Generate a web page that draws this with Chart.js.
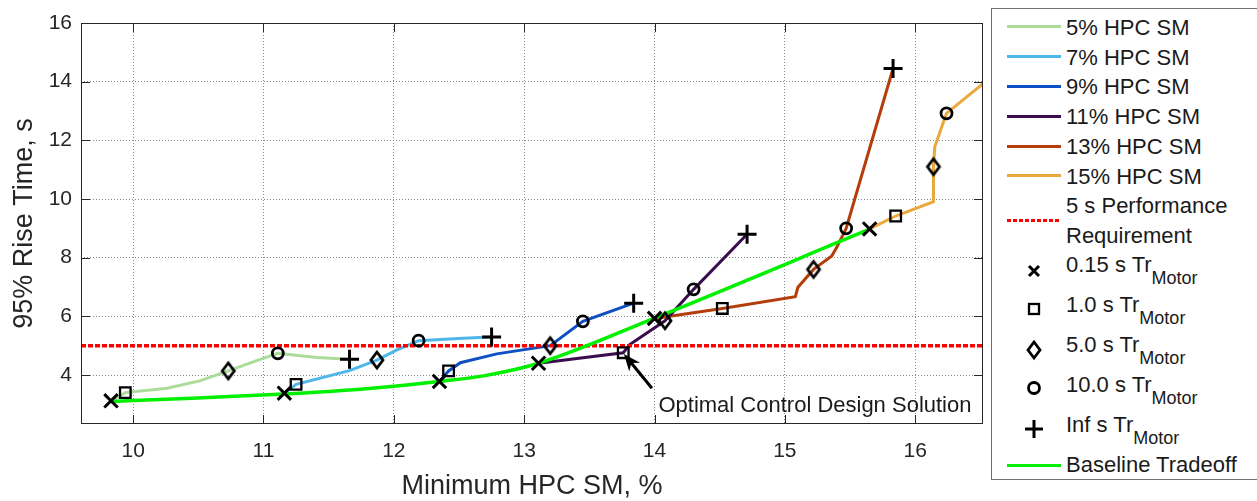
<!DOCTYPE html>
<html>
<head>
<meta charset="utf-8">
<script src="https://cdn.jsdelivr.net/npm/chart.js@4.4.1/dist/chart.umd.min.js"></script>
<style>
  body { margin: 0; background: #fff; }
  #wrap { position: relative; width: 1257px; height: 501px; overflow: hidden; font-family: "Liberation Sans", Arial, sans-serif; }
  #chart { position: absolute; left: 0; top: 0; }
  #legend { position: absolute; left: 991px; top: 8px; width: 300px; height: 472px; border: 1px solid #6f6f6f; box-sizing: border-box; background: #fff; }
  .txt { position: absolute; left: 74px; height: 24px; line-height: 24px; font-size: 22px; color: #1a1a1a; white-space: nowrap; }
  .txt sub { font-size: 18px; vertical-align: -12px; line-height: 0; }
  .smp { position: absolute; left: 15px; width: 54px; height: 3px; }
  .mk { position: absolute; }
</style>
</head>
<body>
<div id="wrap">
  <canvas id="chart" width="1257" height="501"></canvas>
  <div id="legend"></div>
</div>
<script>
// ---------- data ----------
const xTickValues = [10, 11, 12, 13, 14, 15, 16];
const yTickValues = [4, 6, 8, 10, 12, 14, 16];
const xRange = [9.6, 16.52];
const yRange = [2.33, 16];

const seriesLabels = ['5% HPC SM', '7% HPC SM', '9% HPC SM', '11% HPC SM', '13% HPC SM', '15% HPC SM'];
const seriesColors = ['#abdc9a', '#4db6ea', '#0f4fc4', '#3c0d4c', '#b43d0c', '#eaa83a'];

const sm5X  = [9.83, 9.94, 10.26, 10.51, 10.73, 10.92, 11.11, 11.41, 11.66];
const sm5Y  = [3.12, 3.40, 3.55, 3.80, 4.14, 4.45, 4.74, 4.60, 4.54];
const sm7X  = [11.16, 11.25, 11.66, 11.87, 12.02, 12.19, 12.53, 12.75];
const sm7Y  = [3.38, 3.68, 4.15, 4.51, 4.85, 5.17, 5.25, 5.30];
const sm9X  = [12.35, 12.42, 12.51, 12.79, 13.20, 13.45, 13.84];
const sm9Y  = [3.78, 4.14, 4.42, 4.72, 5.00, 5.83, 6.45];
const sm11X = [13.11, 13.76, 13.81, 14.08, 14.30, 14.71];
const sm11Y = [4.40, 4.76, 5.04, 5.85, 6.92, 8.80];
const sm13X = [14.00, 14.52, 15.08, 15.10, 15.22, 15.36, 15.40, 15.47, 15.83];
const sm13Y = [5.93, 6.27, 6.67, 6.99, 7.60, 8.06, 8.37, 9.00, 14.45];
const sm15X = [15.65, 15.85, 16.14, 16.14, 16.15, 16.24, 16.56];
const sm15Y = [8.98, 9.42, 9.91, 11.10, 11.78, 12.92, 14.08];

const baselineX = [9.83, 10.5, 11.16, 11.6, 12.0, 12.35, 12.7, 13.11, 14.00, 15.65];
const baselineY = [3.10, 3.22, 3.35, 3.47, 3.62, 3.78, 3.98, 4.40, 5.94, 8.97];

const requirementY = 5;

const tr015X = [9.83, 11.16, 12.35, 13.11, 14.00, 15.65];
const tr015Y = [3.12, 3.38, 3.78, 4.40, 5.93, 8.98];
const tr1X   = [9.94, 11.25, 12.42, 13.76, 14.52, 15.85];
const tr1Y   = [3.40, 3.68, 4.14, 4.76, 6.27, 9.42];
const tr5X   = [10.73, 11.87, 13.20, 14.08, 15.22, 16.14];
const tr5Y   = [4.14, 4.51, 5.00, 5.85, 7.60, 11.10];
const tr10X  = [11.11, 12.19, 13.45, 14.30, 15.47, 16.24];
const tr10Y  = [4.74, 5.17, 5.83, 6.92, 9.00, 12.92];
const trInfX = [11.66, 12.75, 13.84, 14.71, 15.83];
const trInfY = [4.54, 5.30, 6.45, 8.80, 14.45];

const annotationText = 'Optimal Control Design Solution';
const arrowTip = [13.765, 4.72];
const arrowTail = [13.98, 3.55];
const annotationPos = [14.03, 2.75];

// ---------- helpers ----------
const FONT = '"Liberation Sans", Arial, sans-serif';
const pts = (xs, ys) => xs.map((x, i) => ({ x: x, y: ys[i] }));

function diamondCanvas() {
  const c = document.createElement('canvas');
  c.width = 18; c.height = 26;
  const g = c.getContext('2d');
  g.lineWidth = 2.8; g.strokeStyle = '#000'; g.lineJoin = 'miter';
  g.beginPath(); g.moveTo(9, 5); g.lineTo(15, 13); g.lineTo(9, 21); g.lineTo(3, 13); g.closePath(); g.stroke();
  return c;
}
const diamondImg = diamondCanvas();

const lineSeries = [[sm5X, sm5Y], [sm7X, sm7Y], [sm9X, sm9Y], [sm11X, sm11Y], [sm13X, sm13Y], [sm15X, sm15Y]];

const datasets = [];
const markerDefs = [
  { xs: tr015X, ys: tr015Y, style: 'crossRot', r: 9.5, w: 3 },
  { xs: tr1X, ys: tr1Y, style: 'rect', r: 7.5, w: 2.3 },
  { xs: tr5X, ys: tr5Y, style: diamondImg, r: 8, w: 2.8 },
  { xs: tr10X, ys: tr10Y, style: 'circle', r: 5.5, w: 2.8 },
  { xs: trInfX, ys: trInfY, style: 'cross', r: 9.5, w: 3 }
];
markerDefs.forEach(m => datasets.push({
  data: pts(m.xs, m.ys), showLine: false, pointStyle: m.style, pointRadius: m.r,
  pointBorderWidth: m.w, pointBorderColor: '#000', pointBackgroundColor: 'rgba(0,0,0,0)', order: 0
}));
datasets.push({
  data: pts(baselineX, baselineY), showLine: true, borderColor: '#00f000', borderWidth: 3.5,
  pointRadius: 0, cubicInterpolationMode: 'monotone', order: 1
});
datasets.push({
  data: [{ x: xRange[0], y: requirementY }, { x: xRange[1], y: requirementY }], showLine: true,
  borderColor: '#ff0000', borderWidth: 3.5, borderDash: [5, 2], pointRadius: 0, order: 2
});
lineSeries.forEach((s, i) => datasets.push({
  data: pts(s[0], s[1]), showLine: true, borderColor: seriesColors[i], borderWidth: 3,
  pointRadius: 0, tension: 0, order: 3
}));

const decorPlugin = {
  id: 'decor',
  afterDatasetsDraw(chart) {
    const { ctx, chartArea: a, scales: { x, y } } = chart;
    ctx.save();
    ctx.strokeStyle = '#262626';
    ctx.lineWidth = 1;
    ctx.beginPath();
    xTickValues.forEach(v => {
      const px = Math.round(x.getPixelForValue(v)) + 0.5;
      ctx.moveTo(px, a.bottom); ctx.lineTo(px, a.bottom - 9);
      ctx.moveTo(px, a.top); ctx.lineTo(px, a.top + 9);
    });
    yTickValues.forEach(v => {
      const py = Math.round(y.getPixelForValue(v)) + 0.5;
      ctx.moveTo(a.left, py); ctx.lineTo(a.left + 9, py);
      ctx.moveTo(a.right, py); ctx.lineTo(a.right - 9, py);
    });
    ctx.stroke();
    ctx.strokeRect(a.left + 0.5, a.top + 0.5, a.right - a.left - 1, a.bottom - a.top - 1);

    // arrow
    const tx = x.getPixelForValue(arrowTip[0]), ty = y.getPixelForValue(arrowTip[1]);
    const bx = x.getPixelForValue(arrowTail[0]), by = y.getPixelForValue(arrowTail[1]);
    const len = Math.hypot(bx - tx, by - ty);
    const ux = (bx - tx) / len, uy = (by - ty) / len;
    const nx = -uy, ny = ux;
    const L = 17, W = 14;
    ctx.strokeStyle = '#000';
    ctx.lineWidth = 3;
    ctx.beginPath();
    ctx.moveTo(bx, by); ctx.lineTo(tx + ux * L * 0.6, ty + uy * L * 0.6);
    ctx.stroke();
    ctx.fillStyle = '#000';
    ctx.beginPath();
    ctx.moveTo(tx, ty);
    ctx.lineTo(tx + ux * L + nx * W / 2, ty + uy * L + ny * W / 2);
    ctx.lineTo(tx + ux * L * 0.7, ty + uy * L * 0.7);
    ctx.lineTo(tx + ux * L - nx * W / 2, ty + uy * L - ny * W / 2);
    ctx.closePath();
    ctx.fill();

    ctx.font = '22px ' + FONT;
    ctx.fillStyle = '#1a1a1a';
    ctx.textBaseline = 'alphabetic';
    ctx.textAlign = 'left';
    ctx.fillText(annotationText, x.getPixelForValue(annotationPos[0]), y.getPixelForValue(annotationPos[1]));
    ctx.restore();
  }
};

new Chart(document.getElementById('chart'), {
  type: 'scatter',
  data: { datasets: datasets },
  plugins: [decorPlugin],
  options: {
    responsive: false,
    animation: false,
    events: [],
    layout: { padding: { top: 23, right: 274, left: 0, bottom: 0 } },
    plugins: { legend: { display: false }, tooltip: { enabled: false } },
    scales: {
      x: {
        type: 'linear', min: xRange[0], max: xRange[1],
        afterBuildTicks: s => { s.ticks = xTickValues.map(v => ({ value: v })); },
        afterFit: s => { s.height = 77; },
        grid: { color: '#8a8a8a', drawTicks: false, lineWidth: 1 },
        border: { display: false, dash: [1, 2] },
        ticks: { padding: 15, color: '#262626', font: { family: FONT, size: 21 }, maxRotation: 0 },
        title: { display: true, text: 'Minimum HPC SM, %', color: '#262626', font: { family: FONT, size: 27, lineHeight: 1 }, padding: { top: 0, bottom: 1 } }
      },
      y: {
        type: 'linear', min: yRange[0], max: yRange[1],
        afterBuildTicks: s => { s.ticks = yTickValues.map(v => ({ value: v })); },
        afterFit: s => { s.width = 81; },
        grid: { color: '#8a8a8a', drawTicks: false, lineWidth: 1 },
        border: { display: false, dash: [1, 2] },
        ticks: { padding: 9, color: '#262626', font: { family: FONT, size: 21 } },
        title: { display: true, text: '95% Rise Time, s', color: '#262626', font: { family: FONT, size: 27, lineHeight: 1 }, padding: { top: 11, bottom: 0 } }
      }
    }
  }
});

// ---------- legend (HTML) ----------
const legend = document.getElementById('legend');
function addText(html, top) {
  const d = document.createElement('div');
  d.className = 'txt'; d.style.top = top + 'px'; d.innerHTML = html;
  legend.appendChild(d);
}
function addSample(color, top, dashed) {
  const d = document.createElement('div');
  d.className = 'smp'; d.style.top = top + 'px';
  if (dashed) d.style.background = 'repeating-linear-gradient(90deg,' + color + ' 0 4px, transparent 4px 6px)';
  else d.style.background = color;
  legend.appendChild(d);
}
function addMarker(svgInner, cy, w, h) {
  const ns = 'http://www.w3.org/2000/svg';
  const s = document.createElementNS(ns, 'svg');
  s.setAttribute('width', w); s.setAttribute('height', h);
  s.setAttribute('class', 'mk');
  s.style.left = (42 - w / 2) + 'px'; s.style.top = (cy - h / 2) + 'px';
  s.innerHTML = svgInner;
  legend.appendChild(s);
}
const textTops = [6.9, 36.7, 66.4, 96.2, 125.9, 155.7];
const sampleTops = [15.5, 46.2, 75.5, 105.5, 135.5, 165.2];
seriesLabels.forEach((lab, i) => { addText(lab, textTops[i]); addSample(seriesColors[i], sampleTops[i], false); });
addText('5 s Performance', 185.4);
addText('Requirement', 214.9);
addSample('#ff0000', 209.5, true);
const motorLabels = ['0.15 s Tr', '1.0 s Tr', '5.0 s Tr', '10.0 s Tr', 'Inf s Tr'];
const motorTops = [244.4, 284.4, 324.4, 364.4, 404.4];
motorLabels.forEach((t, i) => addText(t + '<sub>Motor</sub>', motorTops[i]));
addMarker('<path d="M2,2 L12,12 M12,2 L2,12" stroke="#000" stroke-width="3" fill="none"/>', 262, 14, 14);
addMarker('<rect x="2" y="2" width="10" height="10" stroke="#000" stroke-width="2.3" fill="none"/>', 300, 14, 14);
addMarker('<path d="M9,5 L15,13 L9,21 L3,13 Z" stroke="#000" stroke-width="2.8" fill="none"/>', 341, 18, 26);
addMarker('<circle cx="8" cy="8" r="5.5" stroke="#000" stroke-width="2.8" fill="none"/>', 379, 16, 16);
addMarker('<path d="M1,10 L19,10 M10,1 L10,19" stroke="#000" stroke-width="3" fill="none"/>', 419.5, 20, 20);
addText('Baseline Tradeoff', 443.9);
addSample('#00f000', 454.5, false);
</script>
</body>
</html>
